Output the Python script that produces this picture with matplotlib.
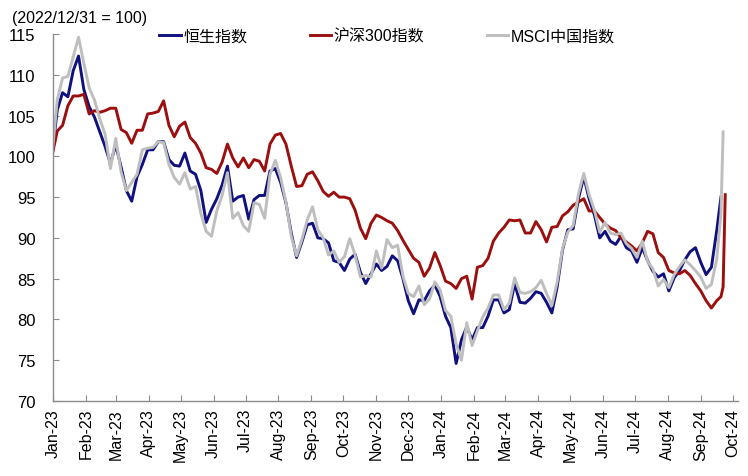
import matplotlib
matplotlib.use('Agg')
import matplotlib.pyplot as plt
import matplotlib.dates as mdates
import numpy as np
import pandas as pd

# fonts: latin text in an Arial-like face, CJK falls back to Noto
plt.rcParams['font.family'] = ['Liberation Sans', 'Noto Sans CJK SC', 'DejaVu Sans']
FONT_SIZE = 11.5

# sample dates (every 5 days) plus the last few days of the rally
DATES = pd.date_range('2022-12-31', periods=126, freq='5D').append(
    pd.DatetimeIndex(['2024-09-20', '2024-09-22', '2024-09-24']))

nan = np.nan

# 恒生指数
HSI = [100, 105.7, 107.8, 107.3, 110.5, 112.3, 108.2, 106.1, 104.8, 103,
       101.2, 99.1, 101.4, 98.7, 95.8, 94.5, 97.5, 99, 100.8, 100.8,
       101.8, 101.8, 99.6, 98.9, 98.8, 100.4, 98.2, 97.8, 95.8, 91.9,
       93.5, 94.8, 96.5, 98.8, 94.5, 95, 95.2, 92.3, 94.7, 95.2,
       95.2, 98.2, 98.5, 96.8, 94.3, 90.6, 87.6, 89.5, 91.6, 91.8,
       90, 89.9, 89.4, 87.2, 87, 86, 87.4, 88, 85.8, 84.4,
       85.6, 86.8, 86, 86.5, 87.8, 87.2, 85, 82.3, 80.7, 82.4,
       82.3, 83.5, 84.2, 82.8, 80.4, 79, 74.6, 77.5, 79.1, 77.5,
       79, 79, 80.4, 82.4, 82.4, 80.8, 81.2, 84.4, 82.1, 82,
       82.6, 83.4, 83.2, 82.1, 80.8, 84, 88.5, 91, 91.1, 94.8,
       97.5, 94.8, 92.8, 90, 90.8, 89.6, 89.2, 90.2, 88.8, 88.4,
       87, 88.8, 87.2, 85.9, 85.2, 85.6, 83.5, 85.1, 86, 87.3,
       88.3, 88.8, 87, 85.5, 86.4, 90.9,
       95.0, nan, nan]

# 沪深300指数
CSI300 = [100, 103.1, 103.8, 106.2, 107.4, 107.4, 107.6, 105.2, 105.6, 105.4,
          105.6, 105.9, 105.9, 103.3, 102.9, 101.6, 103.2, 103.2, 105.2, 105.3,
          105.5, 106.8, 103.8, 102.4, 103.7, 104.2, 102.3, 101.6, 100.4, 98.6,
          98.4, 97.9, 99.3, 101.5, 99.8, 98.7, 99.8, 98.6, 99.6, 99.4,
          98.2, 101.5, 102.6, 102.8, 101.5, 98.8, 96.3, 96.4, 97.8, 98.1,
          97, 95.7, 95.1, 95.6, 95, 95, 94.8, 93.4, 91.2, 89.9,
          91.8, 92.8, 92.5, 92.1, 91.8, 90.9, 89.7, 88.6, 87.5, 87,
          85.3, 86.3, 88.2, 86.6, 84.7, 84.4, 83.8, 85, 85.3, 82.5,
          86.4, 86.6, 87.5, 89.6, 90.6, 91.3, 92.2, 92.1, 92.2, 90.6,
          90.6, 92, 91, 89.5, 91.3, 91.4, 92.7, 93.2, 94, 94.4,
          94.8, 93.3, 93.3, 92.5, 91.7, 91.2, 90.9, 90, 89.5, 89,
          88.4, 89.4, 90.8, 90.5, 88.2, 87.6, 86, 85.7, 85.6, 86,
          85.4, 84.4, 83.5, 82.3, 81.4, 82.3,
          82.8, 84, 95.3]

# MSCI中国指数
MSCI = [100, 106.9, 109.6, 109.8, 112.2, 114.6, 111.4, 108.4, 106.9, 104.6,
        102.7, 98.5, 102.2, 98.1, 95.8, 96.8, 97.8, 100.8, 101, 101.1,
        101.8, 101.7, 99, 97.4, 96.6, 98, 96, 96.3, 93, 90.8,
        90.2, 93.3, 95.2, 98, 92.4, 93.1, 91.5, 90.8, 94.3, 94.1,
        92.4, 97.8, 99.5, 97.4, 94.4, 90.2, 87.8, 89.8, 92.2, 93.8,
        91, 90, 87.9, 88.4, 87, 87.7, 89.9, 87.9, 85.2, 85.4,
        85.2, 88.4, 86.3, 89.8, 88.8, 89.1, 85.3, 83.2, 82.8, 84.1,
        81.8, 82.5, 84.6, 83.6, 81.1, 80.4, 77, 75, 79.6, 76.8,
        78.6, 80.3, 81.4, 83, 83, 81.2, 82, 85.1, 83.3, 83.2,
        83.4, 83.9, 84.8, 83.2, 81.7, 84.6, 88.7, 90.7, 91.5, 95.4,
        97.9, 95.3, 93.4, 90.7, 91.9, 90.6, 90.4, 90.6, 89.3, 88.7,
        87.6, 89.6, 87.1, 86.2, 84.1, 84.9, 83.9, 85.5, 86.5, 87.3,
        86.7, 86, 85.2, 83.8, 84.3, 87.4,
        93, 103, nan]

SERIES = [('恒生指数', HSI, '#10107F'),
          ('沪深300指数', CSI300, '#9B0F0F'),
          ('MSCI中国指数', MSCI, '#BEBEBE')]

fig = plt.figure(figsize=(7.48, 4.77), dpi=100)
ax = fig.add_axes([53 / 748, 1 - 402 / 477, 685 / 748, 367 / 477])

for name, values, color in SERIES:
    ax.plot(DATES, values, color=color, lw=2.1, label=name)

# axes limits and ticks
ax.set_ylim(70, 115)
ax.set_yticks(range(70, 116, 5))
ax.set_xlim(pd.Timestamp('2023-01-01'), pd.Timestamp('2024-10-06'))
ax.xaxis.set_major_locator(mdates.MonthLocator())
ax.xaxis.set_major_formatter(mdates.DateFormatter('%b-%y'))
plt.setp(ax.get_xticklabels(), rotation=90)

ax.tick_params(direction='in', length=4, color='#8C8C8C', labelsize=FONT_SIZE)
ax.tick_params(axis='y', labelsize=FONT_SIZE + 0.5, pad=12.5)
ax.tick_params(axis='x', pad=5)

for side in ['top', 'right']:
    ax.spines[side].set_visible(False)
for side in ['left', 'bottom']:
    ax.spines[side].set_color('#8C8C8C')
    ax.spines[side].set_linewidth(1)

# unit note at top left
fig.text(12 / 748, 1 - 18 / 477, '(2022/12/31 = 100)', fontsize=FONT_SIZE,
         va='center', ha='left')

ax.legend(loc='center', bbox_to_anchor=(387 / 748, 1 - 37 / 477),
          bbox_transform=fig.transFigure, ncol=3, frameon=False,
          fontsize=FONT_SIZE, handlelength=1.35, handletextpad=0.15,
          columnspacing=3.9)

fig.savefig('out.png', dpi=100)
